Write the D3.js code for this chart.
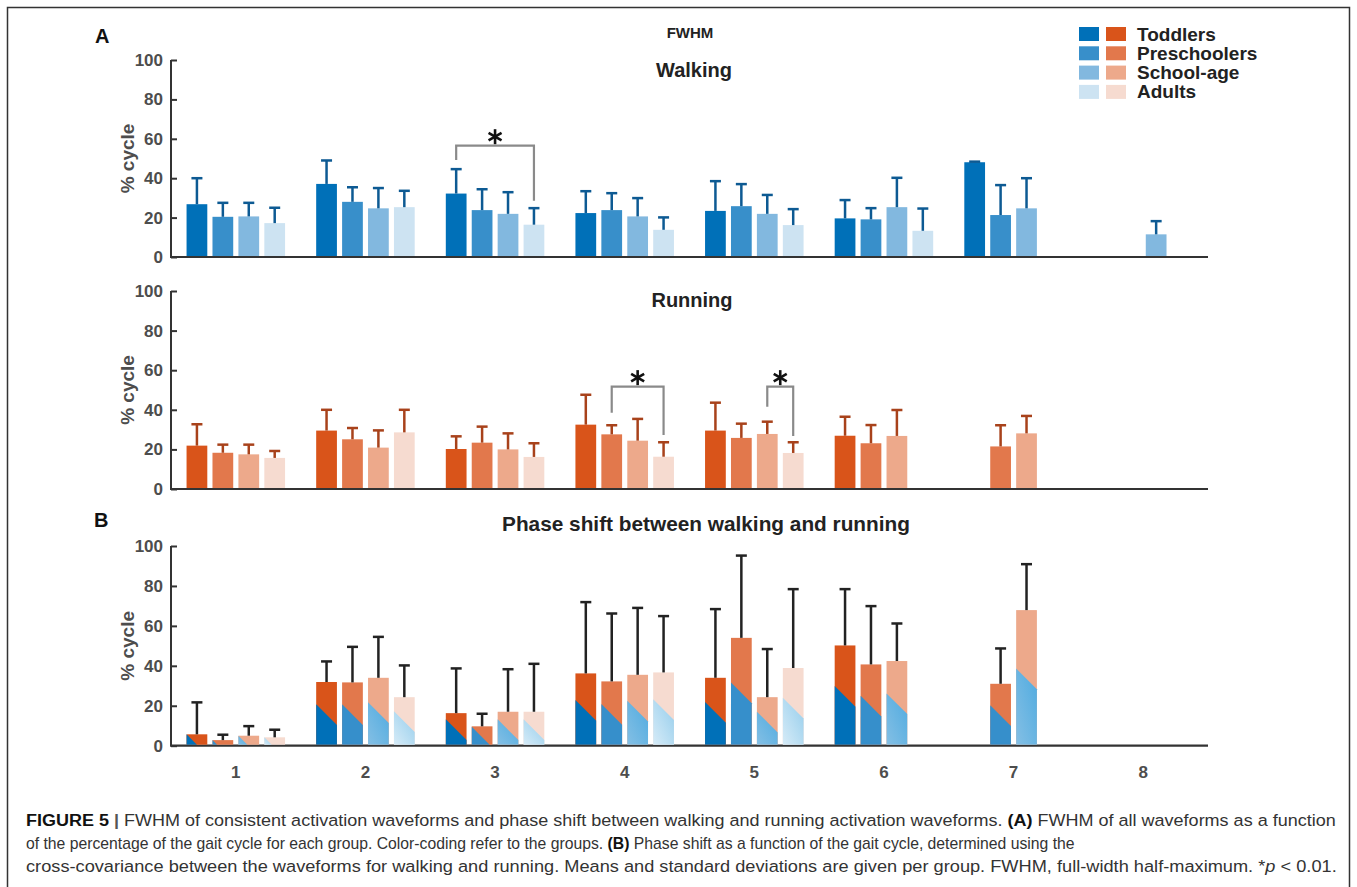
<!DOCTYPE html>
<html lang="en">
<head>
<meta charset="UTF-8">
<title>FWHM and phase shift</title>
<style>
  body, html { margin: 0; padding: 0; background: #fff; }
  svg { display: block; font-family: "Liberation Sans", Arial, sans-serif; }
  .tick { font-weight: bold; font-size: 17px; fill: #4d4d4d; }
  .ttl { font-weight: bold; fill: #222; text-anchor: middle; }
</style>
</head>
<body>
<script src="https://d3js.org/d3.v7.min.js"></script>
<script>
// ---- data ----
const cycleBins = [1, 2, 3, 4, 5, 6, 7, 8];
const ageGroups = ["Toddlers", "Preschoolers", "School-age", "Adults"];
const yTicks = [0, 20, 40, 60, 80, 100];

// walking FWHM, mean and SD per bin x group (null = no waveform)
const walkMean = [
  [26.8, 20.4, 20.6, 17.2],
  [37.1, 28.0, 24.7, 25.3],
  [32.2, 23.8, 21.9, 16.4],
  [22.3, 23.8, 20.6, 13.8],
  [23.4, 25.8, 21.9, 16.2],
  [19.6, 19.1, 25.3, 13.3],
  [48.1, 21.3, 24.7, null],
  [null, null, 11.5, null]
];
const walkSD = [
  [13.2, 7.1, 6.9, 7.8],
  [11.9, 7.4, 10.3, 8.3],
  [12.4, 10.6, 11.0, 8.4],
  [11.1, 8.6, 9.3, 6.3],
  [15.1, 11.2, 9.6, 8.1],
  [9.3, 5.7, 14.9, 11.3],
  [0.3, 15.2, 15.3, null],
  [null, null, 6.7, null]
];

// running FWHM
const runMean = [
  [21.9, 18.3, 17.5, 15.7],
  [29.5, 25.1, 20.9, 28.6],
  [20.2, 23.4, 20.0, 16.2],
  [32.5, 27.6, 24.4, 16.3],
  [29.5, 25.8, 27.8, 18.2],
  [26.9, 23.1, 26.8, null],
  [null, 21.5, 28.1, null],
  [null, null, null, null]
];
const runSD = [
  [10.8, 4.1, 4.9, 3.5],
  [10.5, 5.7, 8.7, 11.4],
  [6.4, 8.1, 8.1, 6.9],
  [15.1, 4.6, 11.0, 7.3],
  [14.1, 7.2, 6.2, 5.4],
  [9.6, 9.2, 13.1, null],
  [null, 10.7, 8.8, null],
  [null, null, null, null]
];

// phase shift: mean, height of the blue (walking) split at the bar's left edge, SD
const phaseMean = [
  [5.7, 2.8, 5.0, 4.2],
  [31.9, 31.7, 34.0, 24.3],
  [16.3, 9.7, 17.0, 17.0],
  [36.2, 32.2, 35.5, 36.7],
  [34.0, 54.0, 24.3, 38.9],
  [50.2, 40.7, 42.4, null],
  [null, 31.0, 67.9, null],
  [null, null, null, null]
];
const phaseSplit = [
  [5.7, 2.8, 5.0, 4.2],
  [20.7, 20.7, 21.7, 17.2],
  [13.2, 9.5, 13.2, 13.2],
  [22.9, 20.9, 22.5, 23.2],
  [21.9, 31.7, 17.0, 24.0],
  [29.9, 25.0, 26.2, null],
  [null, 20.2, 38.7, null],
  [null, null, null, null]
];
const phaseSD = [
  [16.0, 2.7, 4.8, 3.8],
  [10.3, 17.8, 20.5, 15.9],
  [22.4, 6.3, 21.3, 24.0],
  [35.7, 34.0, 33.5, 28.2],
  [34.4, 41.2, 24.1, 39.5],
  [28.2, 29.2, 18.8, null],
  [null, 17.7, 23.0, null],
  [null, null, null, null]
];

// significance brackets: bin, from group, to group, top, left end, right end (% cycle)
const walkSig = [{ bin: 3, from: 0, to: 3, top: 56.5, left: 49.3, right: 28.5 }];
const runSig = [
  { bin: 4, from: 1, to: 3, top: 51.7, left: 38.5, right: 27.3 },
  { bin: 5, from: 2, to: 3, top: 51.7, left: 41.6, right: 26.8 }
];

const blues = ["#0070b8", "#388fca", "#82b8df", "#cde3f2"];
const oranges = ["#d9541a", "#e2784c", "#eda98b", "#f6dbd0"];
const phaseBlues = ["#0070b8", "#368fcb", "url(#gS)", "url(#gA)"];

// ---- setup ----
const W = 1357, H = 887;
const svg = d3.select("body").append("svg").attr("width", W).attr("height", H);

const defs = svg.append("defs");
function grad(id, c0, c1) {
  const g = defs.append("linearGradient").attr("id", id)
    .attr("x1", 1).attr("y1", 0).attr("x2", 0).attr("y2", 1);
  g.append("stop").attr("offset", 0).attr("stop-color", c0);
  g.append("stop").attr("offset", 1).attr("stop-color", c1);
}
grad("gS", "#4fabe0", "#84bfe4");
grad("gA", "#94cdec", "#d6ebf7");

// outer frame
svg.append("path").attr("d", `M7.5,${H} V7.5 H1349.5 V${H}`)
  .attr("fill", "none").attr("stroke", "#333").attr("stroke-width", 1.5);

const x = d3.scaleLinear().domain([0.5, 8.5]).range([171, 1208]);
const slot = 0.2, barW = 0.16;
const bx0 = (bin, i) => x(bin + (i - 1.5) * slot - barW / 2);
const bxc = (bin, i) => x(bin + (i - 1.5) * slot);
const bw = x(barW) - x(0);

function axes(y, title, titleX, titleY, titleSize) {
  const g = svg.append("g");
  const yAxis = d3.axisRight(y).tickValues(yTicks).tickSize(6).tickFormat("");
  g.append("g").attr("transform", `translate(${x(0.5)},0)`).call(yAxis)
    .call(s => s.selectAll("line,path").attr("stroke", "#333").attr("stroke-width", 2))
    .call(s => s.select(".domain").attr("d", `M0,${y(100)}V${y(0)}`));
  g.selectAll("text.tick").data(yTicks).join("text").attr("class", "tick")
    .attr("x", x(0.5) - 8).attr("y", d => y(d) + 6).attr("text-anchor", "end").text(d => d);
  g.append("line").attr("x1", x(0.5) - 1).attr("x2", x(8.5)).attr("y1", y(0)).attr("y2", y(0))
    .attr("stroke", "#333").attr("stroke-width", 2.2);
  g.append("text").attr("transform", `translate(134,${(y(0) + y(100)) / 2}) rotate(-90)`)
    .attr("text-anchor", "middle").attr("font-weight", "bold").attr("font-size", 19)
    .attr("fill", "#4d4d4d").text("% cycle");
  g.append("text").attr("class", "ttl").attr("x", titleX).attr("y", titleY)
    .attr("font-size", titleSize).text(title);
}

function flat(means, sds) {
  const out = [];
  means.forEach((row, b) => row.forEach((m, i) => {
    if (m !== null) out.push({ bin: cycleBins[b], i, m, sd: sds[b][i], b });
  }));
  return out;
}

function errorBars(y, data, color) {
  const g = svg.append("g").attr("stroke", color).attr("stroke-width", 2.5);
  g.selectAll("line.v").data(data).join("line")
    .attr("x1", d => bxc(d.bin, d.i)).attr("x2", d => bxc(d.bin, d.i))
    .attr("y1", d => y(d.m)).attr("y2", d => y(d.m + d.sd));
  g.selectAll("line.c").data(data).join("line")
    .attr("x1", d => bxc(d.bin, d.i) - 5.5).attr("x2", d => bxc(d.bin, d.i) + 5.5)
    .attr("y1", d => y(d.m + d.sd)).attr("y2", d => y(d.m + d.sd));
}

function star(cx, cy) {
  const r = 7.5;
  const g = svg.append("g").attr("stroke", "#111").attr("stroke-width", 2.6);
  [90, 30, -30].forEach(a => {
    const dx = r * Math.cos(a * Math.PI / 180), dy = r * Math.sin(a * Math.PI / 180);
    g.append("line").attr("x1", cx - dx).attr("x2", cx + dx).attr("y1", cy - dy).attr("y2", cy + dy);
  });
}

function brackets(y, sig) {
  sig.forEach(s => {
    const xl = bxc(s.bin, s.from), xr = bxc(s.bin, s.to);
    svg.append("path")
      .attr("d", `M${xl},${y(s.left)}V${y(s.top)}H${xr}V${y(s.right)}`)
      .attr("fill", "none").attr("stroke", "#8a8a8a").attr("stroke-width", 2.2);
    star((xl + xr) / 2, y(s.top) - 9);
  });
}

function fwhmPanel(y, means, sds, fills, errColor, title, titleX, titleY, sig) {
  axes(y, title, titleX, titleY, 20);
  const data = flat(means, sds);
  svg.append("g").selectAll("rect").data(data).join("rect")
    .attr("x", d => bx0(d.bin, d.i)).attr("width", bw)
    .attr("y", d => y(d.m)).attr("height", d => y(0) - y(d.m) - 1)
    .attr("fill", d => fills[d.i]);
  errorBars(y, data, errColor);
  brackets(y, sig);
}

// ---- panel A ----
const yWalk = d3.scaleLinear().domain([0, 100]).range([257, 60]);
const yRun = d3.scaleLinear().domain([0, 100]).range([489, 291]);
const yPhase = d3.scaleLinear().domain([0, 100]).range([745.7, 546]);

fwhmPanel(yWalk, walkMean, walkSD, blues, "#0d5a93", "Walking", 694, 77, walkSig);
fwhmPanel(yRun, runMean, runSD, oranges, "#a8421b", "Running", 692, 307, runSig);

// ---- panel B ----
axes(yPhase, "Phase shift between walking and running", 706, 531, 20.8);
const pdata = flat(phaseMean, phaseSD);
pdata.forEach(d => d.split = phaseSplit[d.b][d.i]);
const pg = svg.append("g");
pg.selectAll("rect").data(pdata).join("rect")
  .attr("x", d => bx0(d.bin, d.i)).attr("width", bw)
  .attr("y", d => yPhase(d.m)).attr("height", d => yPhase(0) - yPhase(d.m) - 1)
  .attr("fill", d => oranges[d.i]);
pg.selectAll("path").data(pdata).join("path")
  .attr("fill", d => phaseBlues[d.i])
  .attr("d", d => {
    const x0 = bx0(d.bin, d.i), x1 = x0 + bw;
    const base = yPhase(0) - 1, ys = yPhase(d.split);
    if (ys + bw <= base) return `M${x0},${base}V${ys}L${x1},${ys + bw}V${base}Z`;
    return `M${x0},${base}V${ys}L${x0 + (base - ys)},${base}Z`;
  });
errorBars(yPhase, pdata, "#222");

svg.append("g").selectAll("text").data(cycleBins).join("text").attr("class", "tick")
  .attr("x", d => x(d)).attr("y", 778).attr("text-anchor", "middle").text(d => d);

// ---- headings, legend ----
svg.append("text").attr("x", 95).attr("y", 43).attr("font-weight", "bold").attr("font-size", 20).attr("fill", "#111").text("A");
svg.append("text").attr("x", 94).attr("y", 527).attr("font-weight", "bold").attr("font-size", 20).attr("fill", "#111").text("B");
svg.append("text").attr("class", "ttl").attr("x", 690).attr("y", 38).attr("font-size", 15).text("FWHM");

const leg = svg.append("g").attr("transform", "translate(1079,27)");
ageGroups.forEach((name, i) => {
  const row = leg.append("g").attr("transform", `translate(0,${i * 19.3})`);
  row.append("rect").attr("width", 20).attr("height", 14).attr("fill", blues[i]);
  row.append("rect").attr("x", 27).attr("width", 20).attr("height", 14).attr("fill", oranges[i]);
  row.append("text").attr("x", 58).attr("y", 13.5).attr("font-weight", "bold")
    .attr("font-size", 19).attr("fill", "#222").text(name);
});

// ---- caption ----
const capLines = [
  { y: 826, parts: [["FIGURE 5 ", "b"], ["| ", "bar"], ["FWHM of consistent activation waveforms and phase shift between walking and running activation waveforms. ", ""], ["(A)", "b"], [" FWHM of all waveforms as a function", ""]], len: 1311 },
  { y: 849, parts: [["of the percentage of the gait cycle for each group. Color-coding refer to the groups. ", ""], ["(B)", "b"], [" Phase shift as a function of the gait cycle, determined using the", ""]], len: 1049 },
  { y: 872, parts: [["cross-covariance between the waveforms for walking and running. Means and standard deviations are given per group. FWHM, full-width half-maximum. *", ""], ["p", "i"], [" < 0.01.", ""]], len: 1311 }
];
capLines.forEach(l => {
  const t = svg.append("text").attr("x", 26).attr("y", l.y).attr("font-size", 17)
    .attr("fill", "#333");
  l.parts.forEach(([s, k]) => {
    const ts = t.append("tspan").text(s);
    if (k === "b") ts.attr("font-weight", "bold").attr("fill", "#111");
    if (k === "bar") ts.attr("font-weight", "bold").attr("fill", "#555");
    if (k === "i") ts.attr("font-style", "italic");
  });
  // squeeze to the measured line width
  const natural = t.node().getComputedTextLength();
  const sx = l.len / natural;
  t.attr("transform", `translate(26,0) scale(${sx},1) translate(-26,0)`);
});
</script>
</body>
</html>
